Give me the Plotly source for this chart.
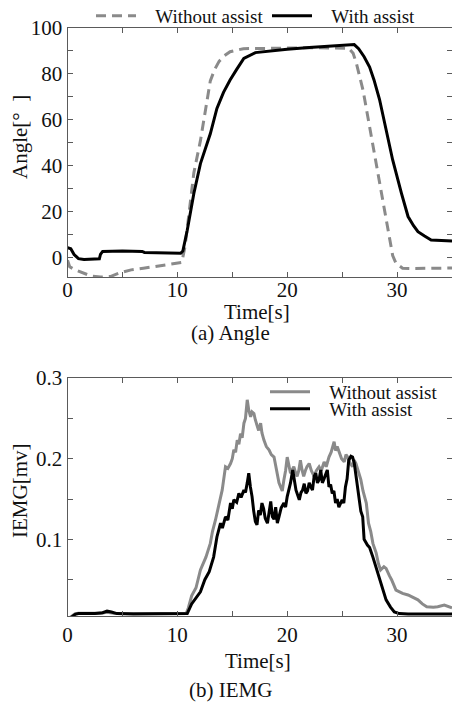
import plotly.graph_objects as go

# ---------------- data: (a) Angle ----------------
angle_wo_t = [0, 0.2, 0.6, 1.1, 2.1, 3.0, 3.9, 4.8, 5.8, 6.9, 8.5, 10.0, 10.4, 10.7, 11.0, 11.5,
              12.1, 12.6, 13.0, 13.4, 13.8, 14.3, 14.8, 16.0, 18, 20, 22, 24, 25.6, 26.0, 26.3,
              26.9, 27.5, 28.1, 28.7, 29.3, 29.6, 29.9, 30.5, 31.5, 33, 35]
angle_wo_v = [-1, -3.8, -5, -6, -7.8, -8.3, -8.1, -6.4, -5.2, -4.5, -3.4, -2.5, -2.0, 5, 18, 37,
              51, 66, 77, 82, 85.5, 88, 89.7, 91, 91.2, 91.3, 91.4, 91.3, 91.2, 89, 84.6,
              73, 57, 41, 23.8, 7.8, 1, -2.3, -4.5, -4.6, -4.5, -4.4]

angle_w_t = [0, 0.3, 0.6, 1.0, 1.5, 2.5, 2.9, 3.0, 3.2, 5, 6.8, 7.0, 9, 10.3, 10.5, 10.9, 11.5,
             12.1, 13.0, 13.6, 14.2, 14.8, 15.4, 16.05, 17.1, 18.5, 20, 22, 24, 25.5, 26.1,
             26.5, 27.0, 27.5, 27.9, 28.4, 28.8, 29.6, 30.4, 31.0, 31.5, 31.9, 32.5, 33.1, 35]
angle_w_v = [4.5, 4.0, 1.5, -0.3, -0.7, -0.5, -0.4, 1.5, 2.8, 3.0, 2.8, 2.4, 2.2, 2.0, 3, 12, 28,
             41, 54, 65, 72, 77.4, 82, 86.8, 89.3, 90.1, 90.8, 91.5, 92.0, 92.6, 92.8,
             91, 87.5, 83, 77.4, 69, 60, 42.6, 28.1, 18, 14, 11.4, 9.5, 7.8, 7.4]

# ---------------- data: (b) IEMG  (with assist) ----------------
iemg_w_t = [0, 0.3, 0.7, 1.0, 2.5, 3.2, 3.6, 4.0, 4.5, 6, 8, 10, 10.9, 11.3, 11.7, 12.1,
            12.5, 12.9, 13.3, 13.6, 13.93, 14.1, 14.38, 14.6, 14.84, 15.0, 15.14, 15.4,
            15.6, 15.8, 16.06, 16.2, 16.36, 16.5, 16.65, 16.8, 16.95, 17.1, 17.25, 17.4,
            17.55, 17.7, 17.85, 18.0, 18.2, 18.34, 18.5, 18.65, 18.8, 18.95, 19.1, 19.25,
            19.45, 19.7, 19.85, 20.0, 20.15, 20.3, 20.5, 20.65, 20.8, 20.95, 21.1, 21.25,
            21.4, 21.55, 21.7, 21.85, 22.0, 22.15, 22.3, 22.45, 22.6, 22.75, 22.9, 23.05,
            23.2, 23.35, 23.5, 23.65, 23.8, 23.95, 24.1, 24.25, 24.4, 24.55, 24.7, 24.85,
            25.0, 25.15, 25.3, 25.45, 25.6, 25.8, 25.95, 26.1, 26.26, 26.4, 26.55, 26.7,
            26.87, 27.0, 27.3, 27.5, 27.8, 28.1, 28.4, 28.7, 29.0, 29.4, 29.75, 30.2, 31, 35]
iemg_w_v = [0.0, 0.003, 0.007, 0.008, 0.008, 0.009, 0.011, 0.010, 0.008, 0.0075, 0.0075, 0.0075,
            0.008, 0.02, 0.028, 0.035,
            0.05, 0.06, 0.078, 0.103, 0.120, 0.114, 0.128, 0.124, 0.145, 0.138, 0.149, 0.146,
            0.157, 0.152, 0.161, 0.158, 0.170, 0.182, 0.165, 0.153, 0.135, 0.122, 0.118, 0.136,
            0.130, 0.145, 0.138, 0.126, 0.120, 0.136, 0.147, 0.128, 0.125, 0.140, 0.120, 0.128,
            0.139, 0.145, 0.140, 0.153, 0.160, 0.170, 0.186, 0.172, 0.161, 0.155, 0.149, 0.158,
            0.161, 0.169, 0.157, 0.160, 0.170, 0.165, 0.161, 0.178, 0.182, 0.170, 0.174, 0.186,
            0.170, 0.175, 0.182, 0.186, 0.165, 0.168, 0.157, 0.160, 0.145, 0.150, 0.140, 0.145,
            0.149, 0.145, 0.165, 0.175, 0.198, 0.203, 0.202, 0.195, 0.178, 0.160, 0.149, 0.135,
            0.128, 0.100, 0.093, 0.090, 0.078, 0.064, 0.050, 0.036, 0.025, 0.016, 0.010, 0.008,
            0.0075, 0.0075]

# ---------------- data: (b) IEMG  (without assist) ----------------
iemg_wo_t = [0, 0.3, 0.7, 1.0, 3.0, 3.6, 4.2, 6, 10.8, 11.0, 11.3, 11.7, 12.1, 12.6, 13.0, 13.2,
             13.47, 13.7, 13.85, 14.08, 14.25, 14.38, 14.6, 14.84, 15.0, 15.14, 15.3, 15.45,
             15.6, 15.75, 15.9, 16.06, 16.2, 16.36, 16.5, 16.67, 16.8, 16.97, 17.1, 17.28,
             17.4, 17.58, 17.7, 17.88, 18.1, 18.34, 18.55, 18.8, 18.95, 19.1, 19.25, 19.4,
             19.55, 19.7, 19.85, 20.0, 20.15, 20.3, 20.45, 20.6, 20.75, 20.9, 21.05, 21.2,
             21.35, 21.5, 21.65, 21.8, 22.0, 22.2, 22.45, 22.65, 22.9, 23.1, 23.36, 23.55,
             23.8, 24.0, 24.27, 24.4, 24.55, 24.73, 24.95, 25.19, 25.35, 25.5, 25.7, 25.95,
             26.1, 26.26, 26.45, 26.7, 26.9, 27.2, 27.4, 27.6, 27.8, 28.1, 28.3, 28.5, 28.8,
             29.0, 29.3, 29.5, 29.9, 30.5, 31.0, 31.5, 31.9, 32.3, 32.7, 33.3, 33.7, 34.3,
             34.7, 35]
iemg_wo_v = [0.0, 0.004, 0.008, 0.0085, 0.0085, 0.0095, 0.0085, 0.008, 0.008, 0.015, 0.03, 0.04,
             0.062, 0.078, 0.095, 0.11,
             0.124, 0.14, 0.147, 0.161, 0.175, 0.190, 0.188, 0.194, 0.200, 0.211, 0.208, 0.223,
             0.218, 0.231, 0.226, 0.244, 0.250, 0.273, 0.260, 0.252, 0.258, 0.256, 0.248, 0.240,
             0.235, 0.244, 0.232, 0.223, 0.215, 0.211, 0.205, 0.202, 0.190, 0.182, 0.170, 0.165,
             0.160, 0.174, 0.185, 0.202, 0.190, 0.182, 0.186, 0.190, 0.183, 0.178, 0.185, 0.198,
             0.186, 0.178, 0.185, 0.190, 0.194, 0.185, 0.178, 0.185, 0.190, 0.185, 0.196, 0.190,
             0.202, 0.208, 0.221, 0.210, 0.215, 0.207, 0.200, 0.196, 0.205, 0.202, 0.195, 0.190,
             0.198, 0.194, 0.185, 0.174, 0.160, 0.145, 0.120, 0.110, 0.095, 0.083, 0.070, 0.062,
             0.066, 0.064, 0.055, 0.050, 0.037, 0.033, 0.031, 0.028, 0.025, 0.020, 0.0165, 0.016,
             0.0165, 0.0186, 0.017, 0.015]

assert len(angle_wo_t) == len(angle_wo_v)
assert len(angle_w_t) == len(angle_w_v)
assert len(iemg_w_t) == len(iemg_w_v)
assert len(iemg_wo_t) == len(iemg_wo_v)

x_ticks = [0, 10, 20, 30]
angle_ticks = [0, 20, 40, 60, 80, 100]
iemg_ticks = [0.1, 0.2, 0.3]

W, H = 452, 702
FONT = "Liberation Serif, Times New Roman, serif"
GRAY = "#8a8a8a"
AX = "#5a5a5a"
PAD = "\u00a0\u00a0\u00a0"

def py(p):
    return 1 - p / H

def px(p):
    return p / W

fig = go.Figure()

fig.add_trace(go.Scatter(x=angle_wo_t, y=angle_wo_v, mode="lines", name=PAD + "Without assist",
                         line=dict(color=GRAY, width=3, dash="10px,6px"),
                         xaxis="x", yaxis="y", legend="legend"))
fig.add_trace(go.Scatter(x=angle_w_t, y=angle_w_v, mode="lines", name=PAD + "With assist",
                         line=dict(color="black", width=3),
                         xaxis="x", yaxis="y", legend="legend2"))
fig.add_trace(go.Scatter(x=iemg_wo_t, y=iemg_wo_v, mode="lines", name=PAD + "Without assist",
                         line=dict(color=GRAY, width=3),
                         xaxis="x2", yaxis="y2", legend="legend3"))
fig.add_trace(go.Scatter(x=iemg_w_t, y=iemg_w_v, mode="lines", name=PAD + "With assist",
                         line=dict(color="black", width=3),
                         xaxis="x2", yaxis="y2", legend="legend4"))

xdom = [px(67.5), 1.0]
common_axis = dict(showline=True, linecolor=AX, linewidth=1, mirror="ticks", ticks="inside",
                   ticklen=5, tickcolor=AX, showgrid=False, zeroline=False, automargin=False,
                   tickfont=dict(family=FONT, size=21, color="#111"))

fig.update_layout(
    width=W, height=H, margin=dict(l=0, r=0, t=0, b=0, autoexpand=False),
    paper_bgcolor="white", plot_bgcolor="white",
    font=dict(family=FONT, size=20, color="#111"),
    xaxis=dict(domain=xdom, anchor="y", range=[0, 35], tickvals=x_ticks, ticklabelstandoff=-6,
               minor=dict(dtick=5, tick0=0, ticks="inside", ticklen=5, tickcolor=AX),
               **common_axis),
    yaxis=dict(domain=[py(277), py(28)], anchor="x", range=[-8.3, 100], tickvals=angle_ticks,
               minor=dict(dtick=10, tick0=0, ticks="inside", ticklen=5, tickcolor=AX),
               **common_axis),
    xaxis2=dict(domain=xdom, anchor="y2", range=[0, 35], tickvals=x_ticks,
                minor=dict(dtick=5, tick0=0, ticks="inside", ticklen=5, tickcolor=AX),
                **common_axis),
    yaxis2=dict(domain=[py(616), py(378)], anchor="x2", range=[0.005, 0.3], tickvals=iemg_ticks,
                minor=dict(dtick=0.05, tick0=0, ticks="inside", ticklen=5, tickcolor=AX),
                **common_axis),
    showlegend=True,
)

leg_common = dict(orientation="v", bgcolor="rgba(0,0,0,0)", borderwidth=0,
                  font=dict(family=FONT, size=19, color="#111"), itemwidth=40,
                  xanchor="left", yanchor="middle")
fig.update_layout(
    legend=dict(x=px(91), y=py(16), **leg_common),
    legend2=dict(x=px(267), y=py(16), **leg_common),
    legend3=dict(x=px(265), y=py(392), **leg_common),
    legend4=dict(x=px(265), y=py(409), **leg_common),
)

ann = []
ann.append(dict(text="Time[s]", x=px(257), y=py(312), xref="paper", yref="paper",
                showarrow=False, xanchor="center", yanchor="middle", font=dict(size=21)))
ann.append(dict(text="(a) Angle", x=px(231), y=py(333), xref="paper", yref="paper",
                showarrow=False, xanchor="center", yanchor="middle", font=dict(size=21)))
ann.append(dict(text="Time[s]", x=px(258), y=py(661), xref="paper", yref="paper",
                showarrow=False, xanchor="center", yanchor="middle", font=dict(size=21)))
ann.append(dict(text="(b) IEMG", x=px(231), y=py(690), xref="paper", yref="paper",
                showarrow=False, xanchor="center", yanchor="middle", font=dict(size=21)))
ann.append(dict(text="Angle[°\u00a0\u00a0]", x=px(20), y=py(137), xref="paper", yref="paper",
                showarrow=False, xanchor="center", yanchor="middle", textangle=-90,
                font=dict(size=21)))
ann.append(dict(text="IEMG[mv]", x=px(20), y=py(491), xref="paper", yref="paper",
                showarrow=False, xanchor="center", yanchor="middle", textangle=-90,
                font=dict(size=21)))
fig.update_layout(annotations=ann)

fig.write_html("out.html", config={"displayModeBar": False},
               post_script="document.body.style.margin='0';document.body.style.overflow='hidden';")
